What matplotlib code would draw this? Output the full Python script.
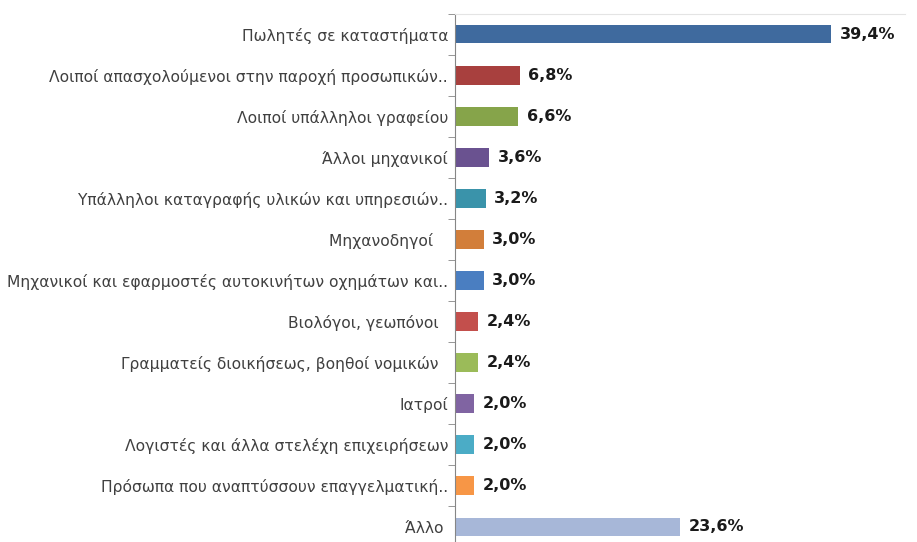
import numpy as np
import matplotlib.pyplot as plt

labels = ["Πωλητές σε καταστήματα",
          "Λοιποί απασχολούμενοι στην παροχή προσωπικών..",
          "Λοιποί υπάλληλοι γραφείου",
          "Άλλοι μηχανικοί",
          "Υπάλληλοι καταγραφής υλικών και υπηρεσιών..",
          "Μηχανοδηγοί   ",
          "Μηχανικοί και εφαρμοστές αυτοκινήτων οχημάτων και..",
          "Βιολόγοι, γεωπόνοι  ",
          "Γραμματείς διοικήσεως, βοηθοί νομικών  ",
          "Ιατροί",
          "Λογιστές και άλλα στελέχη επιχειρήσεων",
          "Πρόσωπα που αναπτύσσουν επαγγελματική..",
          "Άλλο "]
values = [39.4, 6.8, 6.6, 3.6, 3.2, 3.0, 3.0, 2.4, 2.4, 2.0, 2.0, 2.0, 23.6]
colors = ["#3F6A9E", "#A8403E", "#86A44A", "#6A5290", "#3A93AA", "#D27E3A",
          "#4A7EC1", "#C34F4C", "#9BBB59", "#8064A2", "#4BACC6", "#F79646", "#A7B7D8"]

fig = plt.figure(figsize=(9.17, 5.42), dpi=100)
ax = fig.add_axes([455/917, -5.5/542, 450/917, 534/542])

y = np.arange(len(values))
ax.barh(y, values, height=0.46, color=colors)
ax.set_ylim(len(values) - 0.5, -0.5)
ax.set_xlim(0, 450 / 9.54)

for yi, v in zip(y, values):
    ax.text(v + 0.9, yi, f"{v:.1f}%".replace(".", ","), va="center", ha="left",
            fontsize=11.5, fontweight="bold", color="#1a1a1a")

ax.set_yticks(y)
ax.set_yticklabels(labels, fontsize=11.2, color="#404040")
ax.set_yticks(np.arange(-0.5, len(values), 1), minor=True)
ax.tick_params(axis="y", which="major", length=0, pad=5)
ax.tick_params(axis="y", which="minor", length=5, color="#868686")
ax.set_xticks([])

for s in ["right", "bottom"]:
    ax.spines[s].set_visible(False)
ax.spines["left"].set_color("#868686")
ax.spines["top"].set_color("#E4E4E4")

fig.savefig("out.png", dpi=100)
